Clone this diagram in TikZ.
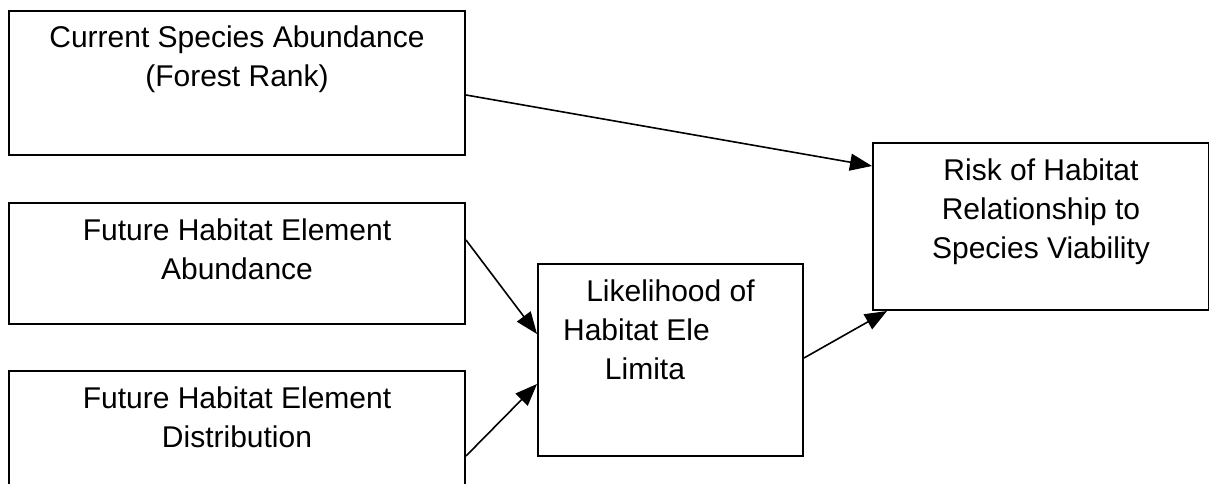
\documentclass[tikz,border=0pt]{standalone}
\usepackage{fontspec}
\setmainfont{Liberation Sans}
\usetikzlibrary{positioning,arrows.meta}

\newcommand{\boxtxt}[3]{\parbox[t][#2][t]{#1}{\centering\rule{0pt}{37pt}#3}}

\begin{document}
\begin{tikzpicture}[x=1pt,y=-1pt,>={Triangle[length=22pt,width=17pt]},
	box/.style={draw,line width=2pt,inner sep=0pt,font=\fontsize{30pt}{39pt}\selectfont}]
				\useasboundingbox (0,0) rectangle (1209,484);
				\node[box,anchor=north west] (cur) at (8,10) {\boxtxt{456pt}{144pt}{Current Species Abundance\\(Forest Rank)}};
				\node[box] (fab) [below=46pt of cur] {\boxtxt{456pt}{121pt}{Future Habitat Element\\Abundance}};
				\node[box] (fdist) [below=45pt of fab] {\boxtxt{456pt}{140pt}{Future Habitat Element\\Distribution}};
				\node[box] (lik) [below right=61pt and 71pt of fab.north east] {\boxtxt{265pt}{192pt}{Likelihood of\\Habitat Ele\rule{68pt}{0pt}\\Limita\rule{51pt}{0pt}}};
				\node[box,anchor=north west] (risk) at (872,142) {\boxtxt{336pt}{167pt}{Risk of Habitat\\Relationship to\\Species Viability}};
				
				\path[->,line width=1.6pt]
				([yshift=-12pt]cur.east) edge ([yshift=-24pt]risk.north west)
				
				([yshift=23.5pt]fab.east) edge ([yshift=-71pt]lik.north west)
				
				([yshift=-86pt]fdist.north east) edge ([yshift=-121pt]lik.north west)
				
				([yshift=-95pt]lik.north east) edge ([xshift=15pt]risk.south west);
				
\end{tikzpicture}
\end{document}
